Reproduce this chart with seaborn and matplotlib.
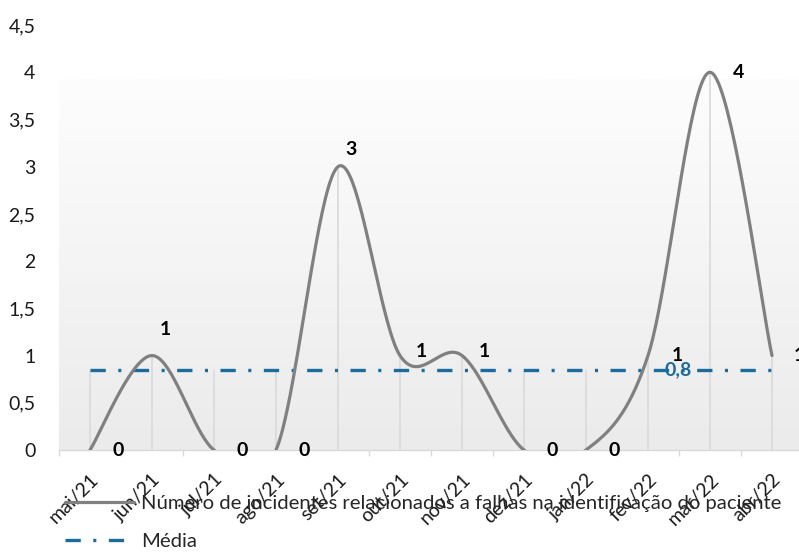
import matplotlib
matplotlib.use("Agg")
import matplotlib.pyplot as plt
import numpy as np
import pandas as pd
import seaborn as sns
from matplotlib.colors import LinearSegmentedColormap
from matplotlib.lines import Line2D

# data
meses = ["mai/21", "jun/21", "jul/21", "ago/21", "set/21", "out/21",
         "nov/21", "dez/21", "jan/22", "fev/22", "mar/22", "abr/22"]
incidentes = [0, 1, 0, 0, 3, 1, 1, 0, 0, 1, 4, 1]
media = 0.846
serie_nome = "Número de incidentes relacionados a falhas na identificação do paciente"
media_nome = "Média"
y_ticks = [0, 0.5, 1, 1.5, 2, 2.5, 3, 3.5, 4, 4.5]

# where excel left the data labels (offset in pixels from the point)
label_offsets = [(28, 0), (13, 26), (28, 0), (28, 0), (13, 17), (21, 4),
                 (22, 4), (28, 0), (28, 0), (29, 0), (29, 0), (27, 0)]

GRAY = "#808080"
BLUE = "#1a6b9e"
LIGHT = "#d9d9d9"


def smooth(xs, ys, n=40):
    # excel-like smoothed line: bezier segments with catmull-rom tangents
    xs = np.asarray(xs, float)
    ys = np.asarray(ys, float)
    px = np.concatenate([[xs[0]], xs, [xs[-1]]])
    py = np.concatenate([[ys[0]], ys, [ys[-1]]])
    t = np.linspace(0, 1, n)[:, None]
    parts = []
    for i in range(len(xs) - 1):
        pm = np.array([px[i], py[i]])
        p0 = np.array([px[i + 1], py[i + 1]])
        p3 = np.array([px[i + 2], py[i + 2]])
        pp = np.array([px[i + 3], py[i + 3]])
        c1 = p0 + (p3 - pm) / 6
        c2 = p3 - (pp - p0) / 6
        seg = ((1 - t) ** 3) * p0 + 3 * ((1 - t) ** 2) * t * c1 + 3 * (1 - t) * t ** 2 * c2 + t ** 3 * p3
        parts.append(seg if i == 0 else seg[1:])
    pts = np.vstack(parts)
    return pd.DataFrame({"x": pts[:, 0], "y": pts[:, 1]})


sns.set_theme(style="white")
plt.rcParams["font.family"] = ["Lato", "DejaVu Sans"]
plt.rcParams["lines.scale_dashes"] = False

fig = plt.figure(figsize=(7.99, 5.52), dpi=100)
ax = fig.add_axes([59 / 799, 1 - 450 / 552, 744 / 799, 425 / 552])

x = np.arange(len(meses))

# plot area gradient
cmap = LinearSegmentedColormap.from_list("bg", ["#ebebeb", "#fdfdfd"])
ax.imshow(np.linspace(0, 1, 200)[:, None], extent=[-0.5, 11.5, 0, 3.92],
          aspect="auto", cmap=cmap, origin="lower", zorder=0)

# drop lines
ax.vlines(x, 0, np.maximum(incidentes, media), color=LIGHT, linewidth=1.2, zorder=1)

# media line
df_media = pd.DataFrame({"x": x, "y": [media] * len(x)})
sns.lineplot(data=df_media, x="x", y="y", ax=ax, color=BLUE, linewidth=2.4,
             dashes=False, zorder=2)
ax.lines[-1].set_dashes([11, 9, 2.2, 9])

# smoothed series
df_smooth = smooth(x, incidentes)
sns.lineplot(data=df_smooth, x="x", y="y", ax=ax, color=GRAY, linewidth=2.3,
             sort=False, estimator=None, zorder=3)

# data labels
for xi, v, off in zip(x, incidentes, label_offsets):
    ax.annotate(str(v), (xi, v), xytext=off, textcoords="offset pixels",
                ha="center", va="center", fontsize=14, fontweight="bold",
                color="black", zorder=5, annotation_clip=False)
ax.annotate(f"{media:.1f}".replace(".", ","), (9, media), xytext=(30, 0),
            textcoords="offset pixels", ha="center", va="center", fontsize=14,
            fontweight="bold", color=BLUE, zorder=5)

ax.set_xlim(-0.5, 11.5)
ax.set_ylim(0, 4.5)
ax.set_xlabel("")
ax.set_ylabel("")

ax.set_yticks(y_ticks)
ax.set_yticklabels([f"{v:g}".replace(".", ",") for v in y_ticks])
ax.tick_params(axis="y", length=0, pad=17, labelsize=14, labelcolor="#1a1a1a")

ax.set_xticks(x)
ax.set_xticklabels(meses, rotation=45, ha="right", rotation_mode="anchor")
ax.tick_params(axis="x", which="major", length=0, pad=15, labelsize=14,
               labelcolor="#1a1a1a")
ax.set_xticks(np.arange(-0.5, 12, 1), minor=True)
ax.tick_params(axis="x", which="minor", length=4, width=1, color=LIGHT,
               direction="out", bottom=True)

for side in ["top", "right", "left"]:
    ax.spines[side].set_visible(False)
ax.spines["bottom"].set_color(LIGHT)
ax.spines["bottom"].set_linewidth(1)

# legend
handles = [Line2D([], [], color=GRAY, linewidth=2.3),
           Line2D([], [], color=BLUE, linewidth=2.4, dashes=[11, 9, 2.2, 9])]
fig.legend(handles, [serie_nome, media_nome], loc="upper left",
           bbox_to_anchor=(65 / 799, 1 - 495 / 552), frameon=False,
           fontsize=14.6, handlelength=3.4, handletextpad=0.35,
           labelspacing=1.0, borderpad=0, borderaxespad=0)

fig.savefig("out.png", dpi=100)
